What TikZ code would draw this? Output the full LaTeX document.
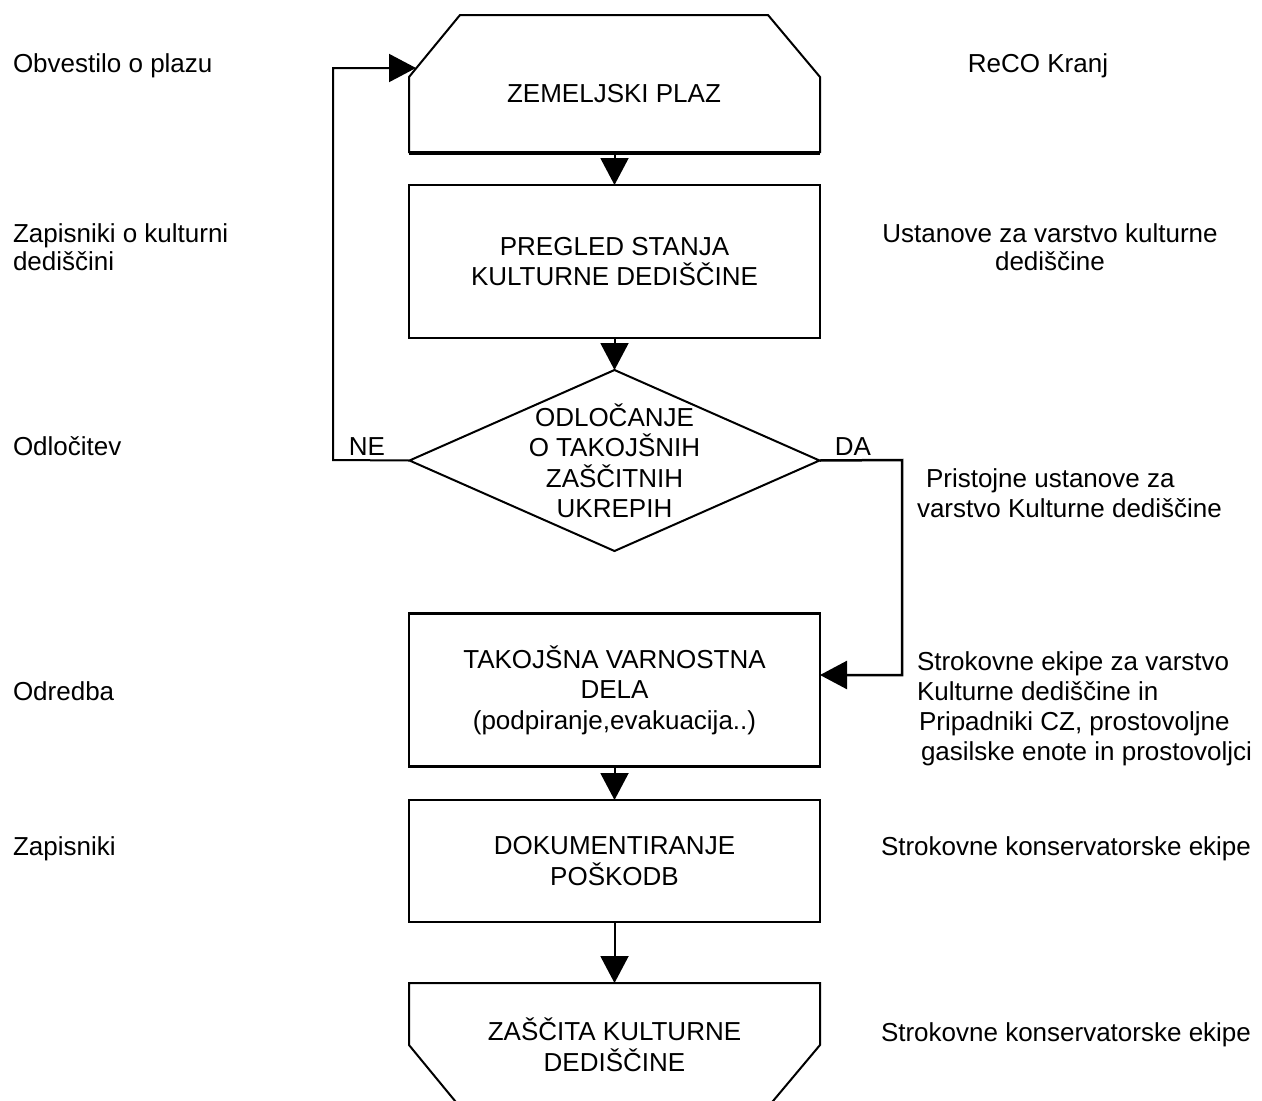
\documentclass[tikz,border=0pt]{standalone}
\usepackage{fontspec}
\setmainfont{Liberation Sans}
\usetikzlibrary{arrows.meta,shapes.geometric,calc}
\begin{document}
\begin{tikzpicture}[x=1pt,y=-1pt,
  lbl/.style={font=\fontsize{26}{30.5}\selectfont, inner sep=0pt, outer sep=0pt},
  boxnode/.style={lbl, draw, line width=2.2pt, minimum width=411pt, align=center},
  ghost/.style={lbl, minimum width=411pt, align=center},
  sidel/.style={lbl, align=left, anchor=base west},
  sidec/.style={lbl, align=center, anchor=base},
  conn/.style={line width=2pt},
  arr/.style={conn, -{Triangle[length=27pt,width=28pt]}},
  shapeline/.style={line width=2pt, line join=miter}
]
\fill[white] (0,0) rectangle (1262,1101);
\useasboundingbox (0,0) rectangle (1262,1101);

% top shape
\node[ghost, minimum height=138pt] (plaz) at (614.5,84) {};
\draw[shapeline] (plaz.south west) -- ++(0,-76) -- ++(51,-62) -- ($(plaz.north east)+(-52,0)$) -- ++(52,62) -- (plaz.south east);
\draw[line width=3.2pt] (plaz.south west) -- (plaz.south east);
\node[lbl, anchor=base] (plaztxt) at (614,102) {ZEMELJSKI PLAZ};

% boxes
\node[boxnode, minimum height=153pt] (pregled) at (614.5,261.5) {PREGLED STANJA\\KULTURNE DEDIŠČINE};
\node[lbl, draw, shape=diamond, line width=2pt, minimum width=410pt, minimum height=181pt] (odl) at (614.5,460.5) {};
\node[lbl, align=center] (odltxt) at (614.5,461) {ODLOČANJE\\O TAKOJŠNIH\\ZAŠČITNIH\\UKREPIH};
\node[boxnode, minimum height=153pt] (tak) at (614.5,690) {TAKOJŠNA VARNOSTNA\\DELA\\(podpiranje,evakuacija..)};
\node[boxnode, minimum height=122pt] (dok) at (614.5,861) {DOKUMENTIRANJE\\POŠKODB};
\node[ghost, minimum height=124pt] (zas) at (614.5,1045) {ZAŠČITA KULTURNE\\DEDIŠČINE};
\draw[shapeline] (zas.north west) -- (zas.north east) -- ++(0,62) -- ++(-52,62) -- ($(zas.south west)+(51,0)$) -- ++(-51,-62) -- cycle;

% connectors
\draw[arr] (plaz.south) -- (pregled.north);
\draw[arr] (pregled.south) -- (odl.north);
\draw[arr] (tak.south) -- (dok.north);
\draw[arr] (dok.south) -- (zas.north);
\coordinate (nebend) at (333,460);
\coordinate (plazin) at (416,68);
\draw[arr] (odl.west) -- (nebend) |- (plazin);
\coordinate (dacorner) at (902,460);
\draw[arr, line width=2.5pt] (odl.east) -- (dacorner) |- ($(tak.east)+(0,-15)$);
\node[sidec] (ne) at (367,455) {NE};
\node[sidec] (da) at (853,455) {DA};

% side texts
\node[sidel] (t1) at (13,72) {Obvestilo o plazu};
\node[sidel, font=\fontsize{26}{28}\selectfont] (t2) at (13,270) {Zapisniki o kulturni\\dediščini};
\node[sidel] (t3) at (13,455) {Odločitev};
\node[sidel] (t4) at (13,700) {Odredba};
\node[sidel] (t5) at (13,855) {Zapisniki};
\node[sidec] (r1) at (1038,72) {ReCO Kranj};
\node[sidec, font=\fontsize{26}{28}\selectfont] (r2) at (1050,270) {Ustanove za varstvo kulturne\\dediščine};
\node[sidel, font=\fontsize{26}{30}\selectfont] (r3) at (917,517) {\hspace*{9pt}Pristojne ustanove za\\varstvo Kulturne dediščine};
\node[sidel, font=\fontsize{26}{30}\selectfont] (r4) at (917,760) {Strokovne ekipe za varstvo\\Kulturne dediščine in\\\hspace*{2pt}Pripadniki CZ, prostovoljne\\\hspace*{4pt}gasilske enote in prostovoljci};
\node[sidel] (r5) at (881,855) {Strokovne konservatorske ekipe};
\node[sidel] (r6) at (881,1041) {Strokovne konservatorske ekipe};
\end{tikzpicture}
\end{document}
